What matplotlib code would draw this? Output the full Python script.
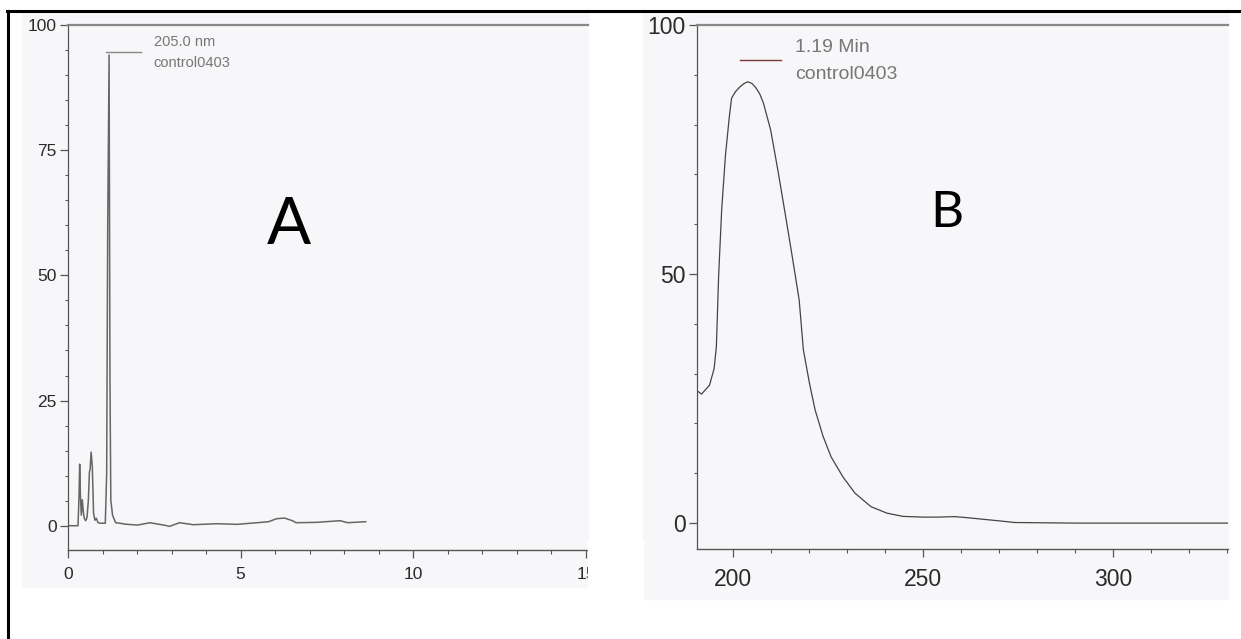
import matplotlib
matplotlib.use("Agg")
import matplotlib.pyplot as plt
from matplotlib.patches import Rectangle
from matplotlib.lines import Line2D
from matplotlib.ticker import MultipleLocator

# ---------------- data ----------------
# A: chromatogram at 205.0 nm (time in min vs. relative absorbance)
time_min = [0.00, 0.29, 0.32, 0.338, 0.36, 0.385, 0.415, 0.44, 0.47, 0.51, 0.55,
            0.59, 0.62, 0.64, 0.67, 0.705, 0.74, 0.78, 0.82, 0.87, 0.95, 1.08,
            1.12, 1.15, 1.19, 1.215, 1.24, 1.29, 1.38, 1.50, 1.67, 2.02, 2.37,
            2.82, 2.94, 3.23, 3.63, 4.32, 4.89, 5.35, 5.81, 6.04, 6.27, 6.50,
            6.61, 7.19, 7.88, 8.10, 8.62]
absorb_a = [0.0, 0.0, 6.0, 12.3, 6.0, 2.1, 5.2, 3.0, 1.5, 1.0, 1.6,
            5.1, 10.7, 11.2, 14.7, 11.7, 2.5, 1.1, 1.5, 0.6, 0.5, 0.5,
            10.4, 60.0, 94.0, 30.0, 5.1, 2.1, 0.6, 0.5, 0.3, 0.13, 0.6,
            0.07, -0.13, 0.6, 0.2, 0.4, 0.27, 0.53, 0.8, 1.4, 1.53, 1.0,
            0.6, 0.67, 1.0, 0.6, 0.8]

# B: UV spectrum of the 1.19 min peak (wavelength nm vs. relative absorbance)
wavelength = [190.1, 191.7, 193.8, 195.0, 195.6, 196.2, 197.0, 198.0, 199.0,
              199.6, 200.6, 201.7, 202.8, 203.8, 204.9, 205.9, 207.0, 208.0,
              209.9, 211.8, 213.7, 215.6, 217.4, 218.5, 220.1, 221.6, 223.7,
              225.8, 228.9, 232.1, 236.3, 240.5, 244.7, 250.0, 254.0, 258.3,
              261.5, 264.6, 269.9, 274.1, 290.0, 310.0, 330.4]
absorb_b = [26.8, 25.9, 27.7, 31.0, 35.4, 49.7, 63.0, 73.9, 81.5,
            85.3, 86.6, 87.5, 88.2, 88.6, 88.3, 87.5, 86.2, 84.3,
            78.9, 70.8, 62.2, 53.4, 44.8, 34.8, 28.1, 22.7, 17.4,
            13.3, 9.3, 6.0, 3.3, 2.0, 1.35, 1.2, 1.2, 1.3,
            1.1, 0.86, 0.46, 0.12, 0.0, 0.0, 0.0]

W, H = 1241, 639
BG = "#f7f7f9"
AXC = "#555555"
TXT = "#2a2a2a"
SANS = ["Liberation Sans", "DejaVu Sans"]


def px_rect(left, top, right, bottom):
    """pixel box -> figure fraction [x, y, w, h]"""
    return [left / W, (H - bottom) / H, (right - left) / W, (bottom - top) / H]


def style_axes(ax, fsize, xmaj, xmin, ymaj, ymin):
    ax.patch.set_visible(False)
    ax.spines["right"].set_visible(False)
    ax.spines["left"].set_color(AXC)
    ax.spines["left"].set_linewidth(0.9)
    ax.spines["bottom"].set_color(AXC)
    ax.spines["bottom"].set_linewidth(1.0)
    ax.spines["top"].set_color("#888888")
    ax.spines["top"].set_linewidth(1.6)
    ax.xaxis.set_major_locator(MultipleLocator(xmaj))
    ax.xaxis.set_minor_locator(MultipleLocator(xmin))
    ax.yaxis.set_major_locator(MultipleLocator(ymaj))
    ax.yaxis.set_minor_locator(MultipleLocator(ymin))
    ax.tick_params(axis="x", which="major", direction="out", length=6, width=0.9,
                   color=AXC, labelsize=fsize, labelcolor=TXT, pad=6)
    ax.tick_params(axis="x", which="minor", direction="out", length=3, width=0.8, color=AXC)
    ax.tick_params(axis="y", which="major", direction="out", length=6, width=0.9,
                   color=AXC, labelsize=fsize, labelcolor=TXT, pad=2)
    ax.tick_params(axis="y", which="minor", direction="out", length=2, width=0.8, color=AXC)
    ax.tick_params(top=False, right=False, which="both")
    for lab in ax.get_xticklabels() + ax.get_yticklabels():
        lab.set_family(SANS)


fig = plt.figure(figsize=(W / 100, H / 100), dpi=100)

# scanned panel backgrounds
fig.patches.append(Rectangle((22 / W, (H - 587) / H), (588 - 22) / W, (587 - 12) / H,
                             transform=fig.transFigure, color=BG, zorder=-2))
fig.patches.append(Rectangle((643 / W, (H - 599) / H), (1228 - 643) / W, (599 - 12) / H,
                             transform=fig.transFigure, color=BG, zorder=-2))

# ---------------- panel A ----------------
axA = fig.add_axes(px_rect(68, 25, 588, 550))
axA.plot(time_min, absorb_a, color="#666666", lw=1.1)
axA.set_xlim(0, 15.06)
axA.set_ylim(-4.85, 100)
style_axes(axA, 12.5, 5, 1, 25, 5)
axA.plot([0.073, 0.140], [0.949, 0.949], transform=axA.transAxes, color="#888888", lw=1.0)
axA.text(0.165, 0.968, "205.0 nm", transform=axA.transAxes, fontsize=10.5,
         family=SANS, color="#777777", va="center", ha="left")
axA.text(0.165, 0.927, "control0403", transform=axA.transAxes, fontsize=10.5,
         family=SANS, color="#777777", va="center", ha="left")

# ---------------- panel B ----------------
axB = fig.add_axes(px_rect(697, 25, 1228, 549))
axB.plot(wavelength, absorb_b, color="#444444", lw=0.9)
axB.set_xlim(190.5, 330.3)
axB.set_ylim(-5.2, 100)
style_axes(axB, 16.5, 50, 10, 50, 10)
axB.tick_params(axis="x", which="major", pad=8)
axB.plot([0.081, 0.159], [0.933, 0.933], transform=axB.transAxes, color="#7a3a3a", lw=1.0)
axB.text(0.185, 0.957, "1.19 Min", transform=axB.transAxes, fontsize=14,
         family=SANS, color="#777777", va="center", ha="left")
axB.text(0.185, 0.905, "control0403", transform=axB.transAxes, fontsize=14,
         family=SANS, color="#777777", va="center", ha="left")

# panel letters
fig.text(289 / W, 1 - 225 / H, "A", fontsize=47, family=["Lato", "DejaVu Sans"],
         ha="center", va="center", color="black")
fig.text(947 / W, 1 - 213 / H, "B", fontsize=37, family=["Lato", "DejaVu Sans"],
         ha="center", va="center", color="black")

# white gap between scans hides the cut "15" label
fig.patches.append(Rectangle((588 / W, (H - 600) / H), (643 - 588) / W, 60 / H,
                             transform=fig.transFigure, color="white", zorder=5))

# outer border (top and left only, rest cropped)
fig.lines.append(Line2D([7 / W, 1.0], [1 - 10.5 / H, 1 - 10.5 / H],
                        transform=fig.transFigure, color="black", lw=2.2))
fig.lines.append(Line2D([7.5 / W, 7.5 / W], [0.0, 1 - 10.5 / H],
                        transform=fig.transFigure, color="black", lw=2.2))

fig.savefig("out.png", dpi=100)
